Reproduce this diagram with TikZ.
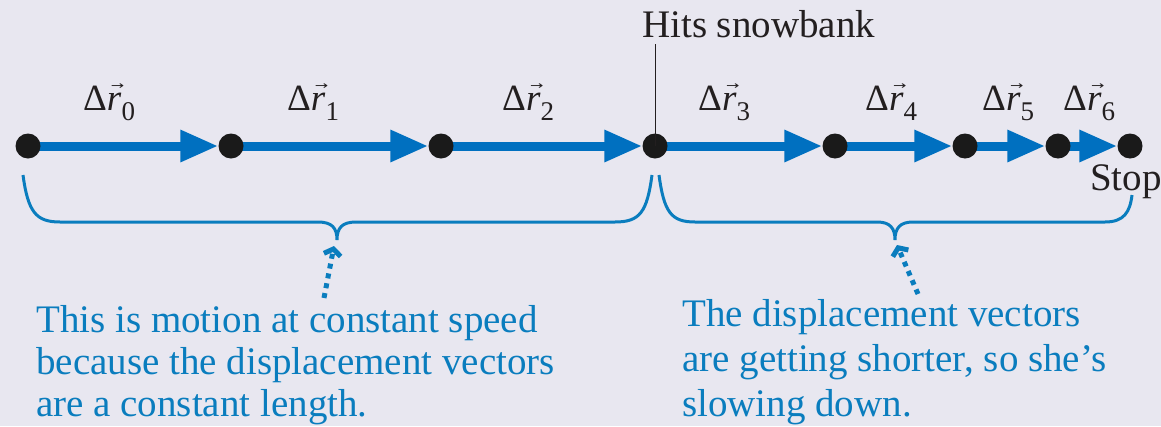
\documentclass[tikz,border=0pt]{standalone}
\usepackage{fontspec}
\setmainfont{Liberation Serif}
\newfontfamily\arrowfont{DejaVu Sans}
\usetikzlibrary{arrows.meta}
\definecolor{bgc}{RGB}{232,231,240}
\definecolor{arrowblue}{RGB}{0,112,192}
\definecolor{txtblue}{RGB}{10,125,190}
\definecolor{dotc}{RGB}{26,26,26}
\definecolor{ink}{RGB}{35,31,32}
\pgfdeclarelayer{bg}\pgfsetlayers{bg,main}
\newcommand{\vecrr}{\makebox[0pt][l]{\hspace{4pt}\raisebox{21pt}{\scalebox{1.45}[1]{\arrowfont\fontsize{11}{11}\selectfont →}}}\textit{r}}
\newcommand{\dispvec}[1]{Δ\vecrr\raisebox{-10pt}{\fontsize{27}{27}\selectfont #1}}
\begin{document}
\begin{tikzpicture}[x=1pt,y=-1pt,
  dot/.style={circle,fill=dotc,minimum size=25pt,inner sep=0pt},
  disp/.style={line width=9pt,draw=arrowblue,-{Triangle[length=38pt,width=30pt]}},
  lbl/.style={anchor=base west,inner sep=0pt,text=ink,font=\fontsize{37}{37}\selectfont},
  plain/.style={anchor=base west,inner sep=0pt,text=ink,font=\fontsize{39}{39}\selectfont},
  brace/.style={draw=txtblue,line width=3pt},
  note/.style={anchor=base west,inner sep=0pt,align=left,text=txtblue},
  pointer/.style={draw=txtblue,line width=5pt,dash pattern=on 5pt off 5pt,-{Straight Barb[length=6pt,width=17pt]}},
]
\begin{pgfonlayer}{bg}
\fill[bgc] (0,0) rectangle (1161,426);
\end{pgfonlayer}
\useasboundingbox (0,0) rectangle (1161,426);

% dots
\node[dot] (d0) at (28,146) {};
\node[dot] (d1) at (231,146) {};
\node[dot] (d2) at (441,146) {};
\node[dot] (d3) at (655,146) {};
\node[dot] (d4) at (835,146) {};
\node[dot] (d5) at (965,146) {};
\node[dot] (d6) at (1058,146) {};
\node[dot] (d7) at (1130,146) {};

% displacement arrows
\begin{pgfonlayer}{bg}
\foreach \a/\b in {0/1,1/2,2/3,3/4,4/5,5/6,6/7}
  \draw[disp] (d\a.center) -- (d\b.west);
\end{pgfonlayer}

% labels
\node[lbl] (l0) at (83,110) {\dispvec{0}};
\node[lbl] (l1) at (287,110) {\dispvec{1}};
\node[lbl] (l2) at (502,110) {\dispvec{2}};
\node[lbl] (l3) at (698,110) {\dispvec{3}};
\node[lbl] (l4) at (865,110) {\dispvec{4}};
\node[lbl] (l5) at (982,110) {\dispvec{5}};
\node[lbl] (l6) at (1063,110) {\dispvec{6}};

\node[plain] (hits) at (642,37) {Hits snowbank};
\draw[ink,line width=1pt] (d3.center) -- ([yshift=-6pt]d3 |- hits.south);
\node[plain] (stop) at (1090,190) {Stop};

% braces
\draw[brace] (23,175) .. controls (28,212) and (36,222) .. (60,222) -- (318,222)
  .. controls (332,222) and (337,228) .. (337,240)
  .. controls (337,228) and (342,222) .. (356,222) -- (615,222)
  .. controls (640,222) and (647,212) .. (652,175);
\draw[brace] (659,175) .. controls (664,212) and (671,222) .. (695,222) -- (877,222)
  .. controls (890,222) and (895,228) .. (895,240)
  .. controls (895,228) and (900,222) .. (913,222) -- (1105,222)
  .. controls (1124,222) and (1130,212) .. (1132,195);

% notes (anchored at the baseline of the last line)
\node[note,font=\fontsize{39}{42}\selectfont] (n1) at (36,416) {This is motion at constant speed\\because the displacement vectors\\are a constant length.};
\node[note,font=\fontsize{39}{45}\selectfont] (n2) at (682,416) {The displacement vectors\\are getting shorter, so she’s\\slowing down.};

\coordinate (p1s) at (324,298);
\coordinate (p1e) at (334,246);
\coordinate (p2s) at (918,294);
\coordinate (p2e) at (897,245);
\draw[pointer] (p1s) -- (p1e);
\draw[pointer] (p2s) -- (p2e);
\end{tikzpicture}
\end{document}
